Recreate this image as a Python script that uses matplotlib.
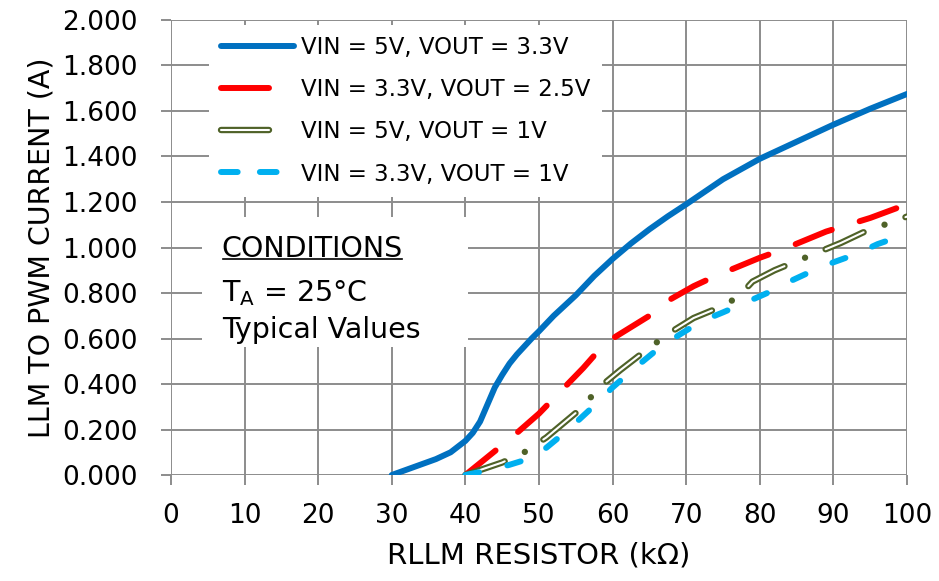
import matplotlib
matplotlib.use('Agg')
import matplotlib.pyplot as plt
from matplotlib.lines import Line2D
from matplotlib.patches import Rectangle
from matplotlib.legend_handler import HandlerBase

plt.rcParams['font.family'] = ['DejaVu Sans']
plt.rcParams['lines.scale_dashes'] = False

# data
x_blue = [30, 33, 36, 38, 40, 41, 42, 43, 44, 45, 46, 47, 48, 49, 50, 52, 55, 57.5, 60, 62.5, 65, 67.5, 70,
          72.5, 75, 77.5, 80, 85, 90, 95, 100]
y_blue = [0.0, 0.035, 0.07, 0.10, 0.15, 0.185, 0.235, 0.31, 0.385, 0.44, 0.49, 0.53, 0.565, 0.60, 0.632, 0.70,
          0.79, 0.875, 0.95, 1.018, 1.08, 1.137, 1.19, 1.245, 1.30, 1.345, 1.39, 1.465, 1.54, 1.61, 1.675]

x_red = [40, 44, 47, 50, 53, 56, 59, 62, 65, 68, 71, 74, 77, 80, 83, 86, 89, 92, 95, 100]
y_red = [0.0, 0.105, 0.185, 0.27, 0.37, 0.47, 0.58, 0.64, 0.70, 0.775, 0.83, 0.875, 0.915, 0.955, 0.99, 1.03,
         1.07, 1.10, 1.13, 1.19]

x_green = [40, 45, 48, 51, 56, 58, 61, 65, 68, 71, 74, 77, 79, 82, 88, 91, 94, 100]
y_green = [0.0, 0.055, 0.10, 0.165, 0.30, 0.38, 0.46, 0.56, 0.63, 0.69, 0.73, 0.78, 0.85, 0.90, 0.98, 1.02,
           1.066, 1.136]

x_cyan = [40, 43, 46, 49, 51, 54, 57, 60, 63, 66, 69, 72, 75, 78, 81, 84, 87, 90, 93, 96, 100]
y_cyan = [0.0, 0.02, 0.045, 0.075, 0.12, 0.20, 0.29, 0.385, 0.47, 0.55, 0.615, 0.675, 0.715, 0.757, 0.80,
          0.85, 0.895, 0.935, 0.97, 1.015, 1.06]

labels = ['VIN = 5V, VOUT = 3.3V', 'VIN = 3.3V, VOUT = 2.5V',
          'VIN = 5V, VOUT = 1V', 'VIN = 3.3V, VOUT = 1V']
xticks = list(range(0, 101, 10))
yticks = [i * 0.2 for i in range(11)]

c_blue = '#0070C0'
c_red = '#FF0000'
c_olive = '#4F6228'
c_cyan = '#00B0F0'
grid_c = '#8C8C8C'

RED_DASH = (28, 21)
CYAN_DASH = (10, 21)

fig = plt.figure(figsize=(9.39, 5.81), dpi=100)
ax = fig.add_axes([0.182, 0.1824, 0.784, 0.7832])

ax.plot(x_blue, y_blue, color=c_blue, lw=4.3, solid_capstyle='round', solid_joinstyle='round', zorder=5)
ax.plot(x_red, y_red, color=c_red, lw=4.3, dashes=RED_DASH, dash_capstyle='round', zorder=5)
# double line: olive outline with a white core, dash-dot pattern
ax.plot(x_green, y_green, color=c_olive, lw=4.6, dashes=(30, 16, 0.01, 16), dash_capstyle='round', zorder=5)
ax.plot(x_green, y_green, color='white', lw=1.5, dashes=(30, 32.01), dash_capstyle='round', zorder=5)
ax.plot(x_cyan, y_cyan, color=c_cyan, lw=4.3, dashes=CYAN_DASH, dash_capstyle='round', zorder=5)

ax.set_xlim(0, 100)
ax.set_ylim(0, 2.0)
ax.set_xticks(xticks)
ax.set_yticks(yticks)
ax.set_yticklabels([f'{v:.3f}' for v in yticks])
ax.grid(True, color=grid_c, lw=1.4, zorder=0)
ax.set_axisbelow(True)
for s in ax.spines.values():
    s.set_visible(False)
ax.tick_params(axis='both', colors=grid_c, labelcolor='black', labelsize=19, length=7, width=1.4)
ax.tick_params(axis='y', pad=17)
ax.tick_params(axis='x', pad=13)
ax.set_xlabel('RLLM RESISTOR (kΩ)', fontsize=21, labelpad=9)
ax.set_ylabel('LLM TO PWM CURRENT (A)', fontsize=20.5, labelpad=5)

# white box behind the conditions text
ax.add_patch(Rectangle((0.042, 0.281), 0.362, 0.286, transform=ax.transAxes,
                       facecolor='white', edgecolor='none', zorder=2))
t1 = ax.text(0.069, 0.497, 'CONDITIONS', transform=ax.transAxes, fontsize=20.5, va='center', zorder=3)
ax.text(0.069, 0.399, r'T$_\mathregular{A}$ = 25°C', transform=ax.transAxes, fontsize=20.5, va='center', zorder=3)
ax.text(0.069, 0.318, 'Typical Values', transform=ax.transAxes, fontsize=20.5, va='center', zorder=3)

fig.canvas.draw()
bb = t1.get_window_extent()
fig.add_artist(Line2D([bb.x0 + 1, bb.x1 - 1], [bb.y0 + 4, bb.y0 + 4], color='black', lw=1.2,
                      transform=None))


class LineHandler(HandlerBase):
    def __init__(self, frac, color, dashes=None, double=False):
        super().__init__()
        self.frac = frac
        self.color = color
        self.dashes = dashes
        self.double = double

    def create_artists(self, legend, orig_handle, xdescent, ydescent, width, height, fontsize, trans):
        y = height / 2 - ydescent
        xs = [-xdescent, -xdescent + width * self.frac]
        if self.double:
            a = Line2D(xs, [y, y], color=self.color, lw=4.6, solid_capstyle='round', transform=trans)
            b = Line2D(xs, [y, y], color='white', lw=1.5, solid_capstyle='round', transform=trans)
            return [a, b]
        kw = dict(color=self.color, lw=4.3, solid_capstyle='round', dash_capstyle='round', transform=trans)
        if self.dashes:
            kw['dashes'] = self.dashes
        return [Line2D(xs, [y, y], **kw)]


h_blue = Line2D([], [], color=c_blue)
h_red = Line2D([], [], color=c_red)
h_green = Line2D([], [], color=c_olive)
h_cyan = Line2D([], [], color=c_cyan)

leg = ax.legend([h_blue, h_red, h_green, h_cyan], labels,
                handler_map={h_blue: LineHandler(1.0, c_blue),
                             h_red: LineHandler(0.66, c_red),
                             h_green: LineHandler(0.66, c_olive, double=True),
                             h_cyan: LineHandler(1.0, c_cyan, dashes=(12, 16))},
                loc='upper left', bbox_to_anchor=(0.052, 0.989), borderaxespad=0,
                fontsize=16.5, frameon=True, fancybox=False, handlelength=3.2,
                handletextpad=0.3, labelspacing=0.83, borderpad=0.5)
leg.get_frame().set_facecolor('white')
leg.get_frame().set_edgecolor('none')
leg.get_frame().set_alpha(1)
leg.set_zorder(6)

fig.savefig('out.png', dpi=100)
